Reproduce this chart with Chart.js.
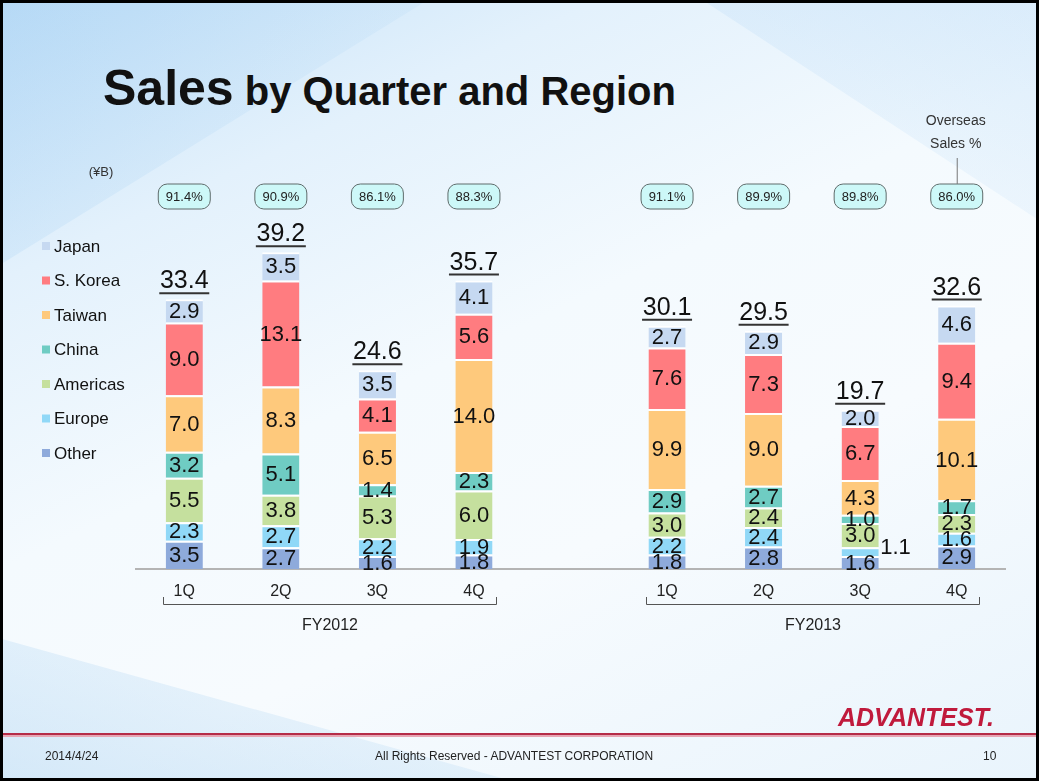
<!DOCTYPE html>
<html>
<head>
<meta charset="utf-8">
<script src="https://cdn.jsdelivr.net/npm/chart.js@4.4.1/dist/chart.umd.min.js"></script>
<style>
  html, body { margin: 0; padding: 0; }
  #slide {
    position: relative; width: 1039px; height: 781px; box-sizing: border-box;
    border: 3px solid #000; overflow: hidden;
    background: linear-gradient(155deg, #c4e1f8 0%, #e3f1fc 22%, #f4fafe 45%, #f7fbfe 65%, #e9f4fc 100%);
    font-family: "Liberation Sans", Arial, sans-serif;
  }
  .facet { position: absolute; }
  #title { position: absolute; left: 100px; top: 56px; font-weight: bold; color: #111; white-space: nowrap; }
  #title .big { font-size: 50px; }
  #title .small { font-size: 40px; }
  #chart { position: absolute; left: -3px; top: -3px; }
  #footline { position: absolute; left: 0; right: 0; top: 730px; height: 2px; background: #b52c48; }
  #footline2 { position: absolute; left: 0; right: 0; top: 732px; height: 2px; background: #e6a6b4; }
  .foot { position: absolute; top: 746px; font-size: 12px; color: #222; }
  #logo { position: absolute; left: 835px; top: 700px; font-size: 25px; font-weight: 900; font-style: italic; color: #c01a3c; }
</style>
</head>
<body>
<div id="slide">
  <div class="facet" style="left:0;top:0;width:420px;height:260px;background:linear-gradient(135deg,rgba(150,200,240,0.3),rgba(255,255,255,0));clip-path:polygon(0 0,100% 0,0 100%);"></div>
  <div class="facet" style="left:560px;top:0;width:480px;height:220px;background:linear-gradient(200deg,rgba(170,210,245,0.3),rgba(255,255,255,0));clip-path:polygon(30% 0,100% 0,100% 100%);"></div>
  <div class="facet" style="left:0;top:600px;width:520px;height:181px;background:linear-gradient(20deg,rgba(160,205,240,0.4),rgba(255,255,255,0));clip-path:polygon(0 20%,100% 100%,0 100%);"></div>
  <div id="title"><span class="big">Sales</span><span class="small"> by Quarter and Region</span></div>
  <canvas id="chart" width="1039" height="781"></canvas>
  <div id="logo">ADVANTEST.</div>
  <div id="footline"></div>
  <div id="footline2"></div>
  <div class="foot" style="left:42px;">2014/4/24</div>
  <div class="foot" style="left:372px;">All Rights Reserved - ADVANTEST CORPORATION</div>
  <div class="foot" style="left:980px;">10</div>
</div>
<script>
// quarters, with an empty slot between the two fiscal years
var quarters = ["1Q", "2Q", "3Q", "4Q", "", "1Q", "2Q", "3Q", "4Q"];
var fiscalYears = ["FY2012", "FY2013"];

// stack order bottom -> top
var other    = [3.5, 2.7, 1.6, 1.8, null, 1.8, 2.8, 1.6, 2.9];
var europe   = [2.3, 2.7, 2.2, 1.9, null, 2.2, 2.4, 1.1, 1.6];
var americas = [5.5, 3.8, 5.3, 6.0, null, 3.0, 2.4, 3.0, 2.3];
var china    = [3.2, 5.1, 1.4, 2.3, null, 2.9, 2.7, 1.0, 1.7];
var taiwan   = [7.0, 8.3, 6.5, 14.0, null, 9.9, 9.0, 4.3, 10.1];
var skorea   = [9.0, 13.1, 4.1, 5.6, null, 7.6, 7.3, 6.7, 9.4];
var japan    = [2.9, 3.5, 3.5, 4.1, null, 2.7, 2.9, 2.0, 4.6];

var totals   = [33.4, 39.2, 24.6, 35.7, null, 30.1, 29.5, 19.7, 32.6];
var overseas = ["91.4%", "90.9%", "86.1%", "88.3%", null, "91.1%", "89.9%", "89.8%", "86.0%"];

var FONT = '"Liberation Sans", Arial, sans-serif';

var labelPlugin = {
  id: "slideLabels",
  afterDatasetsDraw: function (chart) {
    var ctx = chart.ctx;
    var x = chart.scales.x, y = chart.scales.y;
    ctx.save();

    // values inside segments
    ctx.fillStyle = "#111";
    ctx.font = "22px " + FONT;
    ctx.textAlign = "center";
    ctx.textBaseline = "middle";
    chart.data.datasets.forEach(function (ds, di) {
      var meta = chart.getDatasetMeta(di);
      meta.data.forEach(function (bar, i) {
        var v = ds.data[i];
        if (v == null) return;
        var cy = (bar.y + bar.base) / 2;
        if (ds.label === "Europe" && i === 7) {
          ctx.textAlign = "left";
          ctx.fillText(v.toFixed(1), bar.x + 20, cy - 4);
          ctx.textAlign = "center";
        } else {
          ctx.fillText(v.toFixed(1), bar.x, cy + 1);
        }
      });
    });

    // totals with underline, and overseas % bubbles
    totals.forEach(function (t, i) {
      if (t == null) return;
      var cx = x.getPixelForValue(i);
      var top = y.getPixelForValue(t);
      ctx.fillStyle = "#111";
      ctx.font = "25px " + FONT;
      ctx.textAlign = "center";
      ctx.textBaseline = "alphabetic";
      ctx.fillText(t.toFixed(1), cx, top - 11);
      ctx.strokeStyle = "#333";
      ctx.lineWidth = 2;
      ctx.beginPath();
      ctx.moveTo(cx - 25, top - 6);
      ctx.lineTo(cx + 25, top - 6);
      ctx.stroke();

      var bw = 52, bh = 25, by = 184;
      ctx.beginPath();
      ctx.roundRect(cx - bw / 2, by, bw, bh, 9);
      ctx.fillStyle = "#cdf8f8";
      ctx.fill();
      ctx.strokeStyle = "#5e6b6b";
      ctx.lineWidth = 1;
      ctx.stroke();
      ctx.fillStyle = "#222";
      ctx.font = "13px " + FONT;
      ctx.textBaseline = "middle";
      ctx.fillText(overseas[i], cx, by + bh / 2 + 1);
    });

    // "Overseas Sales %" callout
    var lastX = x.getPixelForValue(8);
    ctx.fillStyle = "#333";
    ctx.font = "14px " + FONT;
    ctx.textAlign = "center";
    ctx.fillText("Overseas", lastX - 1, 121);
    ctx.fillText("Sales %", lastX - 1, 144);
    ctx.strokeStyle = "#777";
    ctx.beginPath();
    ctx.moveTo(lastX + 0.5, 158);
    ctx.lineTo(lastX + 0.5, 184);
    ctx.stroke();

    // unit
    ctx.font = "13px " + FONT;
    ctx.fillText("(\u00A5B)", 101, 172);

    // fiscal year brackets
    ctx.strokeStyle = "#555";
    ctx.lineWidth = 1;
    [[0, 3], [5, 8]].forEach(function (r, k) {
      var x0 = Math.round(x.getPixelForValue(r[0]) - 21) + 0.5;
      var x1 = Math.round(x.getPixelForValue(r[1]) + 22) + 0.5;
      ctx.beginPath();
      ctx.moveTo(x0, 597);
      ctx.lineTo(x0, 604.5);
      ctx.lineTo(x1, 604.5);
      ctx.lineTo(x1, 597);
      ctx.stroke();
      ctx.fillStyle = "#222";
      ctx.font = "16px " + FONT;
      ctx.fillText(fiscalYears[k], (x0 + x1) / 2, 626);
    });

    // legend, top to bottom
    ctx.textAlign = "left";
    ctx.font = "17px " + FONT;
    var list = chart.data.datasets.slice().reverse();
    list.forEach(function (ds, k) {
      var ly = 246 + k * 34.5;
      ctx.fillStyle = ds.backgroundColor;
      ctx.fillRect(42, ly - 4, 8, 8);
      ctx.fillStyle = "#111";
      ctx.fillText(ds.label, 54, ly + 1);
    });

    ctx.restore();
  }
};

function seg(label, data, color) {
  return {
    label: label, data: data, backgroundColor: color,
    borderColor: "#ffffff", borderWidth: {top: 2, bottom: 0, left: 0, right: 0},
    borderSkipped: "start", barPercentage: 0.385, categoryPercentage: 1.0
  };
}

new Chart("chart", {
  type: "bar",
  data: {
    labels: quarters,
    datasets: [
      seg("Other", other, "#8eaadb"),
      seg("Europe", europe, "#90d8f7"),
      seg("Americas", americas, "#c5e09e"),
      seg("China", china, "#6fccc3"),
      seg("Taiwan", taiwan, "#fec97c"),
      seg("S. Korea", skorea, "#ff7c80"),
      seg("Japan", japan, "#c6d9f1")
    ]
  },
  options: {
    responsive: false,
    animation: false,
    layout: { padding: { left: 136, right: 34, top: 165, bottom: 152 } },
    plugins: { legend: { display: false }, tooltip: { enabled: false } },
    scales: {
      x: {
        stacked: true,
        grid: { display: false },
        border: { display: true, color: "#b4b4b4", width: 2 },
        ticks: { color: "#222", font: { family: FONT, size: 16 }, padding: 5 },
        afterFit: function (s) { s.height = 60; }
      },
      y: { stacked: true, display: false, min: 0, max: 50 }
    }
  },
  plugins: [labelPlugin]
});
</script>
</body>
</html>
